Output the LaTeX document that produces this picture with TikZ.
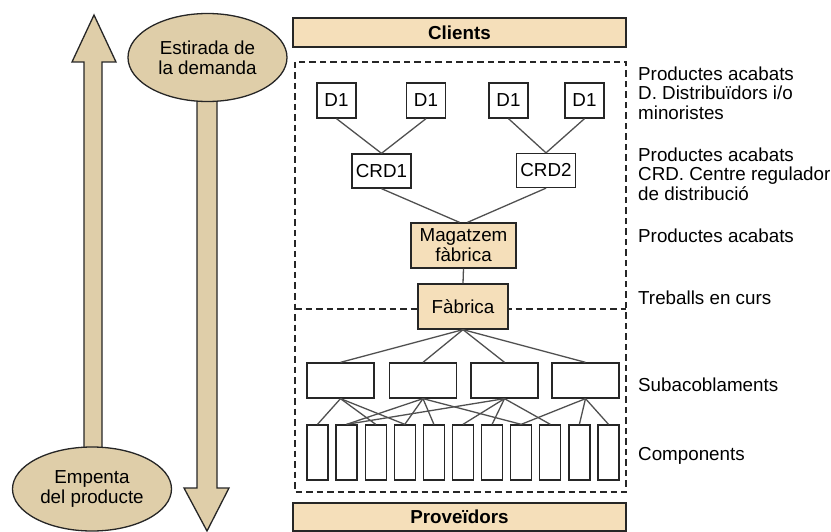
\documentclass[tikz,border=0pt]{standalone}
\usepackage{fontspec}
\setmainfont{Liberation Sans}
\usetikzlibrary{shapes.geometric}

\definecolor{barfill}{RGB}{245,223,186}
\definecolor{tanfill}{RGB}{223,206,169}
\definecolor{edge}{RGB}{38,38,38}
\definecolor{wire}{RGB}{80,80,80}

\begin{document}
\begin{tikzpicture}[x=1pt,y=-1pt,
  every node/.style={font=\fontsize{18.8}{20}\selectfont, inner sep=0pt},
  box/.style={draw=edge, line width=1.3pt, fill=white, minimum width=#1, align=center},
  box/.default=39,
  warm/.style={draw=edge, line width=1.3pt, fill=barfill, align=center},
  bar/.style={warm, minimum width=333, minimum height=29, font=\fontsize{18.8}{20}\selectfont\bfseries},
  blob/.style={ellipse, draw=edge, line width=1.3pt, fill=tanfill, align=center,
    minimum width=159, minimum height=88},
  shaft/.style={draw=edge, line width=1.3pt, fill=tanfill, line join=miter},
  wire/.style={draw=wire, line width=1.3pt},
  frame/.style={draw=edge, line width=1.2pt, dash pattern=on 6.5pt off 4pt},
  note/.style={anchor=base west}
]
\useasboundingbox (0,0) rectangle (831,532);

% push / pull arrows behind their ellipses
\path[shaft] (84,452) -- (84,62) -- (72,62) -- (94,15) -- (116,62) -- (102,62) -- (102,452);
\path[shaft] (197,95) -- (197,488) -- (184,488) -- (207,531) -- (229,488) -- (217,488) -- (217,95);
\node[blob] (pull) at (207.5,57.5) {Estirada de\\la demanda};
\node[blob, minimum height=84] (push) at (92,489) {Empenta\\del producte};

% dashed frame split at the factory level
\draw[frame] (295,62) rectangle (626,492);
\draw[frame] (295,309) -- (626,309);

% end bars
\node[bar] (clients) at (459.5,32.5) {Clients};
\node[bar, minimum height=28] (prov) at (459.5,517) {Proveïdors};

% distribution tree
\foreach \n/\x in {da/336.5, db/426, dc/508.5, dd/584.5}
  \node[box, minimum height=35] (\n) at (\x,100.5) {D1};
\node[box=59, minimum height=34] (crda) at (381.5,171) {CRD1};
\node[box=59, minimum height=34] (crdb) at (546,170.5) {CRD2};
\node[warm, minimum width=105, minimum height=45] (mag) at (463.5,245.5) {Magatzem\\fàbrica};
\node[warm, minimum width=90, minimum height=45] (fab) at (463,306.5) {Fàbrica};

% subassemblies and components
\foreach \n/\x in {sa/340.5, sb/423, sc/504.5, sd/585.5}
  \node[box=67, minimum height=35] (\n) at (\x,380.5) {};
\foreach \i in {1,...,11}
  \node[box=21, minimum height=55] (c\i) at ({317.5+29.1*(\i-1)},452.5) {};

% connectors
\draw[wire] (da.south) -- (crda.north);
\draw[wire] (db.south) -- (crda.north);
\draw[wire] (dc.south) -- (crdb.north);
\draw[wire] (dd.south) -- (crdb.north);
\draw[wire] (crda.south) -- ([xshift=-4pt]mag.north);
\draw[wire] (crdb.south) -- ([xshift=4pt]mag.north);
\draw[wire] (mag.south) -- (fab.north);
\foreach \s in {sa,sb,sc,sd}
  \draw[wire] (fab.south) -- (\s.north);
\foreach \s/\c in {sa/1, sa/3, sa/4,
                   sb/2, sb/4, sb/5, sb/8,
                   sc/2, sc/6, sc/7, sc/9,
                   sd/8, sd/10, sd/11}
  \draw[wire] (\s.south) -- (c\c.north);

% level notes
\node[note] (n1) at (638,80.7) {Productes acabats};
\node[note] (n2) at (638,100) {D. Distribuïdors i/o};
\node[note] (n3) at (638,119.3) {minoristes};
\node[note] (n4) at (638,161.7) {Productes acabats};
\node[note] (n5) at (638,181) {CRD. Centre regulador};
\node[note] (n6) at (638,200.3) {de distribució};
\node[note] (n7) at (638,243) {Productes acabats};
\node[note] (n8) at (638,305) {Treballs en curs};
\node[note] (n9) at (638,391.5) {Subacoblaments};
\node[note] (n10) at (638,460) {Components};
\end{tikzpicture}
\end{document}
